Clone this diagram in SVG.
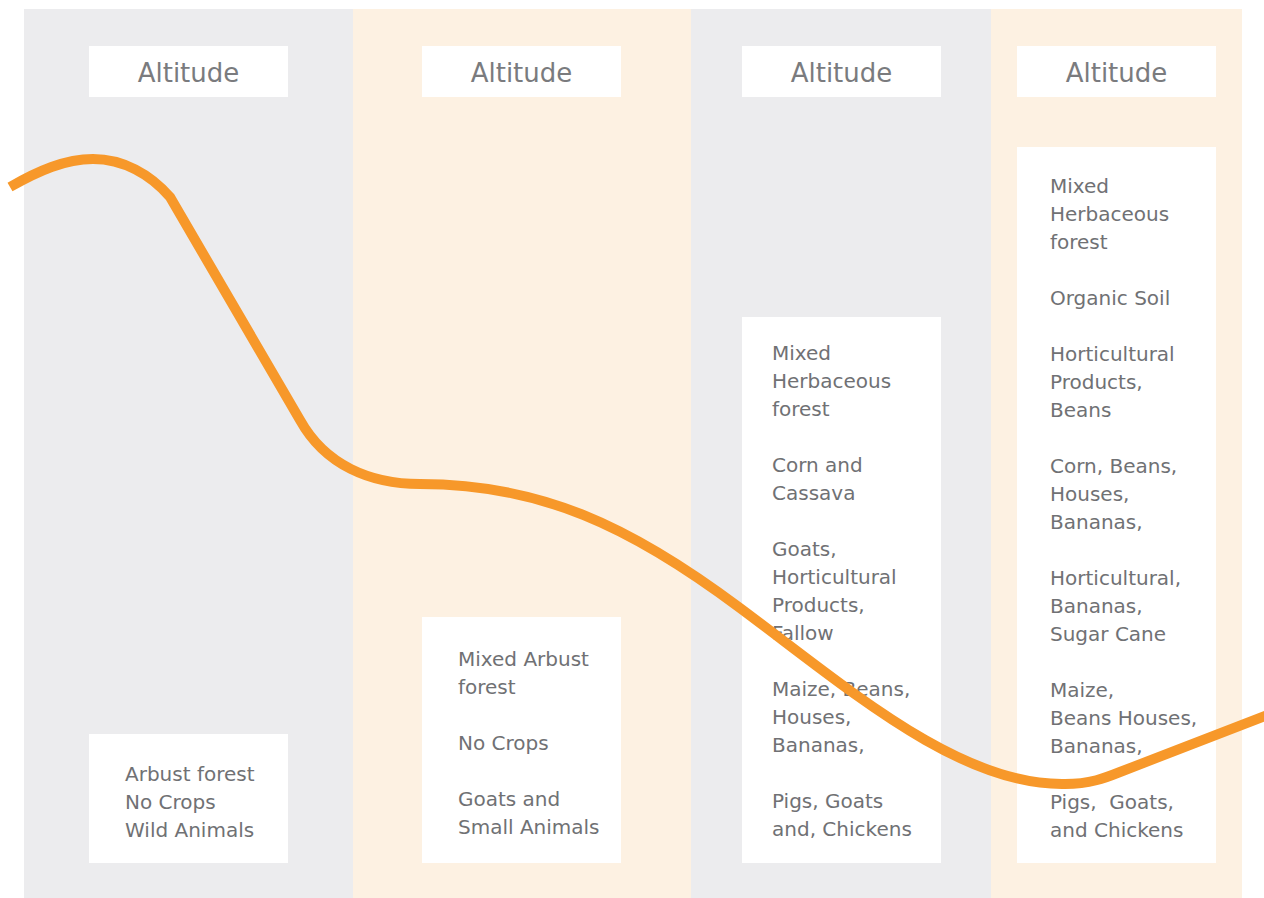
<svg xmlns="http://www.w3.org/2000/svg" width="1264" height="898" viewBox="0 0 1264 898">
<style>
.bg{fill:#ffffff}
.gray{fill:#ececee}
.beige{fill:#fdf1e2}
.box{fill:#ffffff}
.alt{font-family:"DejaVu Sans","Liberation Sans",sans-serif;font-size:26px;fill:#7a7b7e;text-anchor:middle}
.txt{font-family:"DejaVu Sans","Liberation Sans",sans-serif;font-size:20px;fill:#707174}
.curve{fill:none;stroke:#f7982a;stroke-width:10}
</style>
<rect class="bg" x="0" y="0" width="1264" height="898"/>
<g id="panels">
<rect class="gray" x="24" y="9" width="329" height="889"/>
<rect class="beige" x="353" y="9" width="338" height="889"/>
<rect class="gray" x="691" y="9" width="300" height="889"/>
<rect class="beige" x="991" y="9" width="251" height="889"/>
</g>
<g id="alt1"><rect class="box" x="89" y="46" width="199" height="51"/><text class="alt" x="188.5" y="82">Altitude</text></g>
<g id="alt2"><rect class="box" x="422" y="46" width="199" height="51"/><text class="alt" x="521.5" y="82">Altitude</text></g>
<g id="alt3"><rect class="box" x="742" y="46" width="199" height="51"/><text class="alt" x="841.5" y="82">Altitude</text></g>
<g id="alt4"><rect class="box" x="1017" y="46" width="199" height="51"/><text class="alt" x="1116.5" y="82">Altitude</text></g>
<g id="zone1"><rect class="box" x="89" y="734" width="199" height="129"/>
<text class="txt" x="125" y="781"><tspan x="125">Arbust forest</tspan><tspan x="125" dy="28">No Crops</tspan><tspan x="125" dy="28">Wild Animals</tspan></text></g>
<g id="zone2"><rect class="box" x="422" y="617" width="199" height="246"/>
<text class="txt" x="458" y="666"><tspan x="458">Mixed Arbust</tspan><tspan x="458" dy="28">forest</tspan><tspan x="458" dy="56">No Crops</tspan><tspan x="458" dy="56">Goats and</tspan><tspan x="458" dy="28">Small Animals</tspan></text></g>
<g id="zone3"><rect class="box" x="742" y="317" width="199" height="546"/>
<text class="txt" x="772" y="360"><tspan x="772">Mixed</tspan><tspan x="772" dy="28">Herbaceous</tspan><tspan x="772" dy="28">forest</tspan><tspan x="772" dy="56">Corn and</tspan><tspan x="772" dy="28">Cassava</tspan><tspan x="772" dy="56">Goats,</tspan><tspan x="772" dy="28">Horticultural</tspan><tspan x="772" dy="28">Products,</tspan><tspan x="772" dy="28">Fallow</tspan><tspan x="772" dy="56">Maize, Beans,</tspan><tspan x="772" dy="28">Houses,</tspan><tspan x="772" dy="28">Bananas,</tspan><tspan x="772" dy="56">Pigs, Goats</tspan><tspan x="772" dy="28">and, Chickens</tspan></text></g>
<g id="zone4"><rect class="box" x="1017" y="147" width="199" height="716"/>
<text class="txt" x="1050" y="193" xml:space="preserve"><tspan x="1050">Mixed</tspan><tspan x="1050" dy="28">Herbaceous</tspan><tspan x="1050" dy="28">forest</tspan><tspan x="1050" dy="56">Organic Soil</tspan><tspan x="1050" dy="56">Horticultural</tspan><tspan x="1050" dy="28">Products,</tspan><tspan x="1050" dy="28">Beans</tspan><tspan x="1050" dy="56">Corn, Beans,</tspan><tspan x="1050" dy="28">Houses,</tspan><tspan x="1050" dy="28">Bananas,</tspan><tspan x="1050" dy="56">Horticultural,</tspan><tspan x="1050" dy="28">Bananas,</tspan><tspan x="1050" dy="28">Sugar Cane</tspan><tspan x="1050" dy="56">Maize,</tspan><tspan x="1050" dy="28">Beans Houses,</tspan><tspan x="1050" dy="28">Bananas,</tspan><tspan x="1050" dy="56">Pigs,  Goats,</tspan><tspan x="1050" dy="28">and Chickens</tspan></text></g>
<g id="connectors">
<path class="curve" d="M 10 187 C 38 171, 65 159, 93 159 C 123 159, 150 174, 170 197 L 300 420 C 325 465, 370 484, 420 484 C 540 484, 630 525.5, 740 608 C 850 690, 960 786, 1065 784 C 1090 784, 1105 778, 1120 772 L 1270 714"/>
</g>
</svg>
